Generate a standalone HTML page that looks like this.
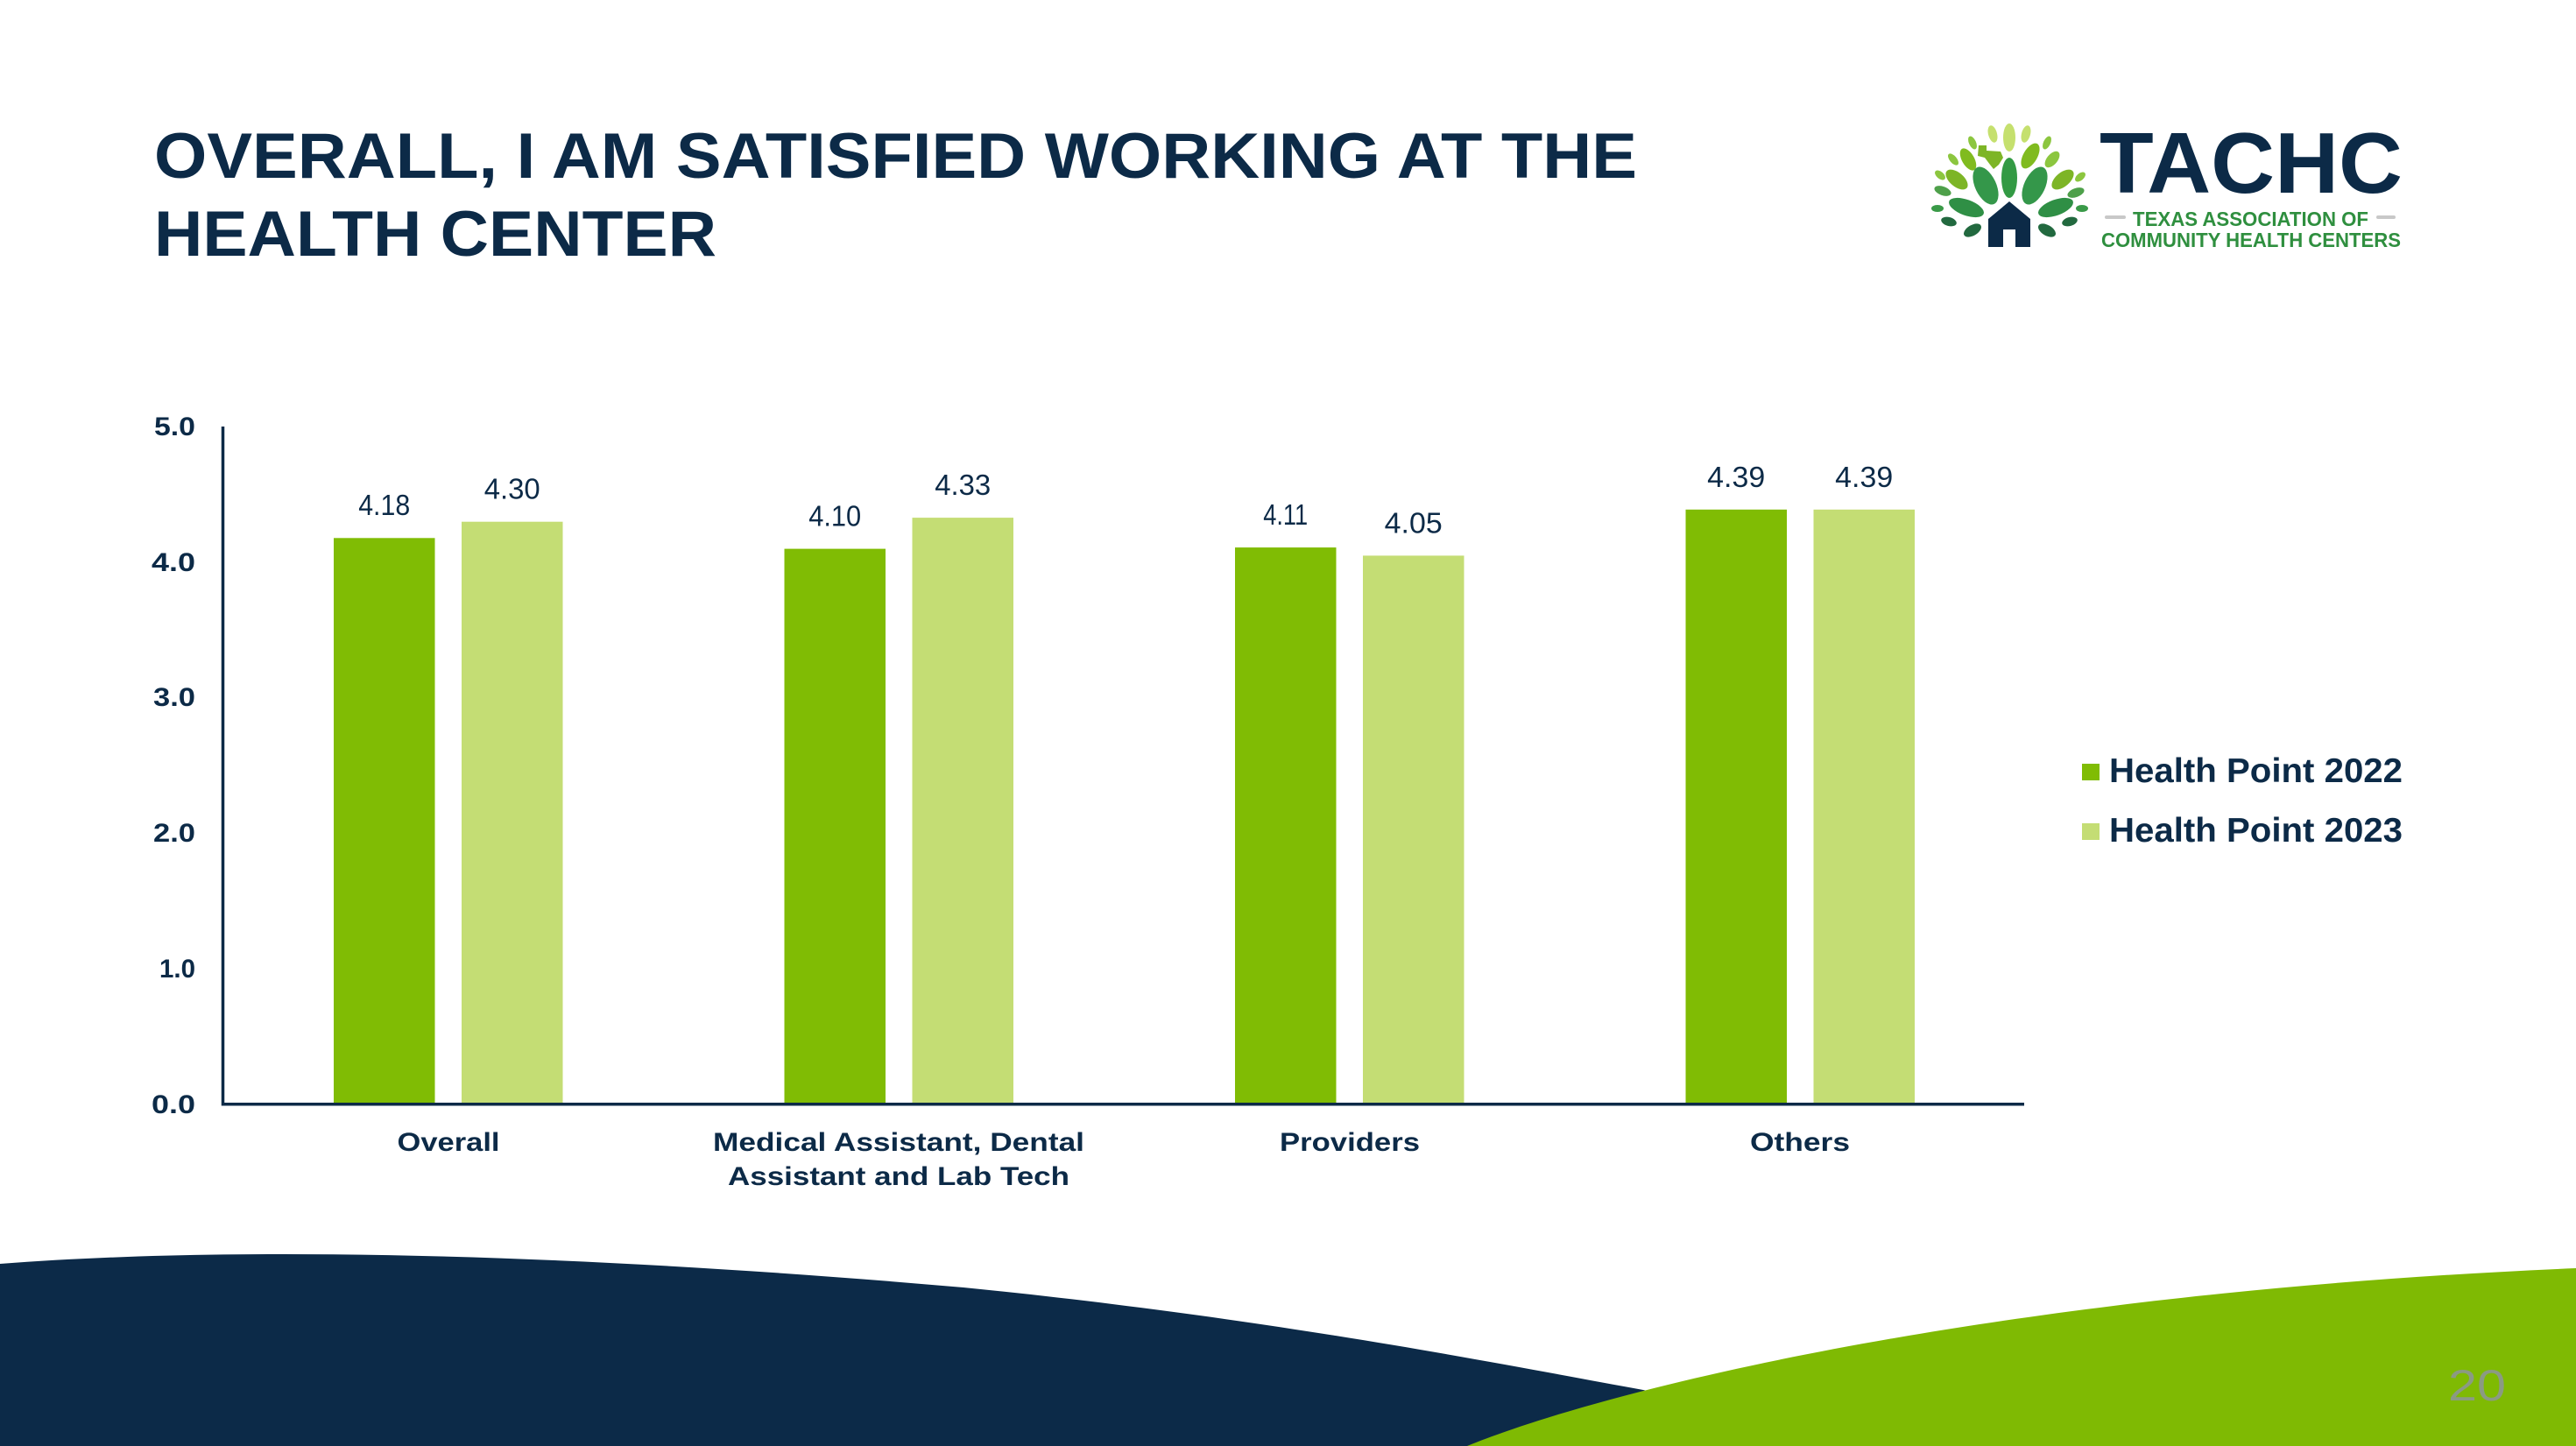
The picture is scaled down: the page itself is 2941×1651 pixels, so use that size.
<!DOCTYPE html>
<html>
<head>
<meta charset="utf-8">
<style>
  html, body { margin: 0; padding: 0; background: #ffffff; }
  body { width: 2941px; height: 1651px; overflow: hidden; }
  svg { display: block; }
  text { font-family: "Liberation Sans", "DejaVu Sans", sans-serif; }
</style>
</head>
<body>
<svg width="2941" height="1651" viewBox="0 0 2941 1651" xmlns="http://www.w3.org/2000/svg">
  <rect x="0" y="0" width="2941" height="1651" fill="#ffffff"/>

  <!-- Title -->
  <text x="176" y="203" font-size="73" font-weight="bold" fill="#0c2a47" textLength="1693" lengthAdjust="spacingAndGlyphs">OVERALL, I AM SATISFIED WORKING AT THE</text>
  <text x="176" y="292" font-size="73" font-weight="bold" fill="#0c2a47" textLength="642" lengthAdjust="spacingAndGlyphs">HEALTH CENTER</text>

  <!-- Logo tree -->
  <g>
    <ellipse cx="2294" cy="157" rx="7" ry="16" fill="#c5e06e"/>
    <ellipse cx="2275" cy="153" rx="5" ry="10" fill="#c5e06e" transform="rotate(-15 2275 153)"/>
    <ellipse cx="2313" cy="153" rx="5" ry="10" fill="#c5e06e" transform="rotate(15 2313 153)"/>
    <ellipse cx="2252" cy="163" rx="4" ry="8" fill="#8cc63f" transform="rotate(-25 2252 163)"/>
    <ellipse cx="2337" cy="163" rx="4" ry="8" fill="#8cc63f" transform="rotate(25 2337 163)"/>
    <path d="M2259,166 L2268,166 L2268,172 L2284,173 L2287,180 L2282,188 L2276,193 L2272,188 L2266,180 L2258,178 Z" fill="#7db526"/>
    <ellipse cx="2230" cy="182" rx="4" ry="8" fill="#8cc63f" transform="rotate(-40 2230 182)"/>
    <ellipse cx="2247" cy="182" rx="7" ry="14" fill="#80bb1f" transform="rotate(-30 2247 182)"/>
    <ellipse cx="2318" cy="178" rx="8" ry="16" fill="#80bb1f" transform="rotate(30 2318 178)"/>
    <ellipse cx="2343" cy="182" rx="6" ry="11" fill="#8cc63f" transform="rotate(40 2343 182)"/>
    <ellipse cx="2215" cy="200" rx="4" ry="7" fill="#8cc63f" transform="rotate(-50 2215 200)"/>
    <ellipse cx="2375" cy="202" rx="4" ry="7" fill="#8cc63f" transform="rotate(50 2375 202)"/>
    <ellipse cx="2234" cy="205" rx="8" ry="15" fill="#7db526" transform="rotate(-50 2234 205)"/>
    <ellipse cx="2355" cy="205" rx="8" ry="15" fill="#7db526" transform="rotate(50 2355 205)"/>
    <ellipse cx="2294" cy="203" rx="9" ry="23" fill="#339a44"/>
    <ellipse cx="2267" cy="212" rx="12" ry="23" fill="#34974a" transform="rotate(-25 2267 212)"/>
    <ellipse cx="2323" cy="212" rx="12" ry="23" fill="#34974a" transform="rotate(25 2323 212)"/>
    <ellipse cx="2218" cy="218" rx="5" ry="10" fill="#4ea04a" transform="rotate(-70 2218 218)"/>
    <ellipse cx="2370" cy="220" rx="5" ry="10" fill="#4ea04a" transform="rotate(70 2370 220)"/>
    <ellipse cx="2245" cy="237" rx="21" ry="9" fill="#2f8f45" transform="rotate(20 2245 237)"/>
    <ellipse cx="2347" cy="237" rx="21" ry="9" fill="#2f8f45" transform="rotate(-20 2347 237)"/>
    <ellipse cx="2212" cy="238" rx="7" ry="4" fill="#3a9a48"/>
    <ellipse cx="2377" cy="238" rx="7" ry="4" fill="#3a9a48"/>
    <ellipse cx="2225" cy="253" rx="9" ry="5" fill="#22693f" transform="rotate(15 2225 253)"/>
    <ellipse cx="2363" cy="253" rx="9" ry="5" fill="#22693f" transform="rotate(-15 2363 253)"/>
    <ellipse cx="2252" cy="263" rx="11" ry="6" fill="#22693f" transform="rotate(-30 2252 263)"/>
    <ellipse cx="2337" cy="263" rx="11" ry="6" fill="#22693f" transform="rotate(30 2337 263)"/>
    <path d="M2270,250 L2294,230 L2318,250 L2318,282 L2301,282 L2301,262 L2287,262 L2287,282 L2270,282 Z" fill="#0c2a47"/>
  </g>

  <!-- Logo text -->
  <text x="2397" y="220" font-size="98" font-weight="bold" fill="#0c2a47" textLength="346" lengthAdjust="spacingAndGlyphs">TACHC</text>
  <rect x="2403" y="246" width="24" height="4" rx="2" fill="#c8c8c8"/>
  <rect x="2713" y="246" width="22" height="4" rx="2" fill="#c8c8c8"/>
  <text x="2435" y="258" font-size="23" font-weight="bold" fill="#2f8f3f" textLength="269" lengthAdjust="spacingAndGlyphs">TEXAS ASSOCIATION OF</text>
  <text x="2399" y="282" font-size="23" font-weight="bold" fill="#2f8f3f" textLength="342" lengthAdjust="spacingAndGlyphs">COMMUNITY HEALTH CENTERS</text>

  <!-- Y tick labels -->
  <g font-size="30" font-weight="bold" fill="#0c2a47" text-anchor="end">
    <text x="223" y="497" textLength="47" lengthAdjust="spacingAndGlyphs">5.0</text>
    <text x="223" y="652" textLength="50" lengthAdjust="spacingAndGlyphs">4.0</text>
    <text x="223" y="806" textLength="48" lengthAdjust="spacingAndGlyphs">3.0</text>
    <text x="223" y="961" textLength="48" lengthAdjust="spacingAndGlyphs">2.0</text>
    <text x="223" y="1116" textLength="41" lengthAdjust="spacingAndGlyphs">1.0</text>
    <text x="223" y="1271" textLength="50" lengthAdjust="spacingAndGlyphs">0.0</text>
  </g>

  <!-- Bars -->
  <g>
    <rect x="381" y="614.3" width="115.5" height="646" fill="#80bc04"/>
    <rect x="527" y="595.7" width="115.5" height="664.6" fill="#c4dd74"/>
    <rect x="895.5" y="626.6" width="115.5" height="633.7" fill="#80bc04"/>
    <rect x="1041.5" y="591.1" width="115.5" height="669.2" fill="#c4dd74"/>
    <rect x="1410" y="625.1" width="115.5" height="635.2" fill="#80bc04"/>
    <rect x="1556" y="634.4" width="115.5" height="625.9" fill="#c4dd74"/>
    <rect x="1924.5" y="581.8" width="115.5" height="678.5" fill="#80bc04"/>
    <rect x="2070.5" y="581.8" width="115.5" height="678.5" fill="#c4dd74"/>
  </g>

  <!-- Value labels -->
  <g font-size="33" fill="#0c2a47" text-anchor="middle">
    <text x="438.7" y="588" textLength="59" lengthAdjust="spacingAndGlyphs">4.18</text>
    <text x="584.7" y="569.5" textLength="64" lengthAdjust="spacingAndGlyphs">4.30</text>
    <text x="953.2" y="600.5" textLength="60" lengthAdjust="spacingAndGlyphs">4.10</text>
    <text x="1099.2" y="565" textLength="64" lengthAdjust="spacingAndGlyphs">4.33</text>
    <text x="1467.7" y="599" textLength="51" lengthAdjust="spacingAndGlyphs">4.11</text>
    <text x="1613.7" y="608.4" textLength="66" lengthAdjust="spacingAndGlyphs">4.05</text>
    <text x="1982.2" y="555.8" textLength="66" lengthAdjust="spacingAndGlyphs">4.39</text>
    <text x="2128.2" y="555.8" textLength="66" lengthAdjust="spacingAndGlyphs">4.39</text>
  </g>

  <!-- Axes -->
  <line x1="254.5" y1="487" x2="254.5" y2="1262.5" stroke="#0c2a47" stroke-width="3.5"/>
  <line x1="253" y1="1260.8" x2="2311" y2="1260.8" stroke="#0c2a47" stroke-width="3.5"/>

  <!-- Category labels -->
  <g font-size="30" font-weight="bold" fill="#0c2a47" text-anchor="middle">
    <text x="512" y="1314" textLength="117" lengthAdjust="spacingAndGlyphs">Overall</text>
    <text x="1026" y="1314" textLength="424" lengthAdjust="spacingAndGlyphs">Medical Assistant, Dental</text>
    <text x="1026" y="1353" textLength="390" lengthAdjust="spacingAndGlyphs">Assistant and Lab Tech</text>
    <text x="1541" y="1314" textLength="160" lengthAdjust="spacingAndGlyphs">Providers</text>
    <text x="2055" y="1314" textLength="114" lengthAdjust="spacingAndGlyphs">Others</text>
  </g>

  <!-- Legend -->
  <rect x="2377" y="872" width="20" height="19" fill="#80bc04"/>
  <text x="2408" y="893" font-size="39" font-weight="bold" fill="#0c2a47" textLength="335" lengthAdjust="spacingAndGlyphs">Health Point 2022</text>
  <rect x="2377" y="940" width="20" height="19" fill="#c4dd74"/>
  <text x="2408" y="961" font-size="39" font-weight="bold" fill="#0c2a47" textLength="335" lengthAdjust="spacingAndGlyphs">Health Point 2023</text>

  <!-- Bottom decorative shapes -->
  <path d="M0,1443 C300,1420 700,1435 1100,1470 C1450,1505 1700,1555 1876,1587 L2150,1651 L0,1651 Z" fill="#0c2a48"/>
  <path d="M1675,1651 C1850,1580 2300,1475 2941,1448 L2941,1651 Z" fill="#7fba03"/>

  <!-- Page number -->
  <text x="2795" y="1599" font-size="50" fill="#8f93a3" textLength="66" lengthAdjust="spacingAndGlyphs" opacity="0.8">20</text>
</svg>
</body>
</html>
